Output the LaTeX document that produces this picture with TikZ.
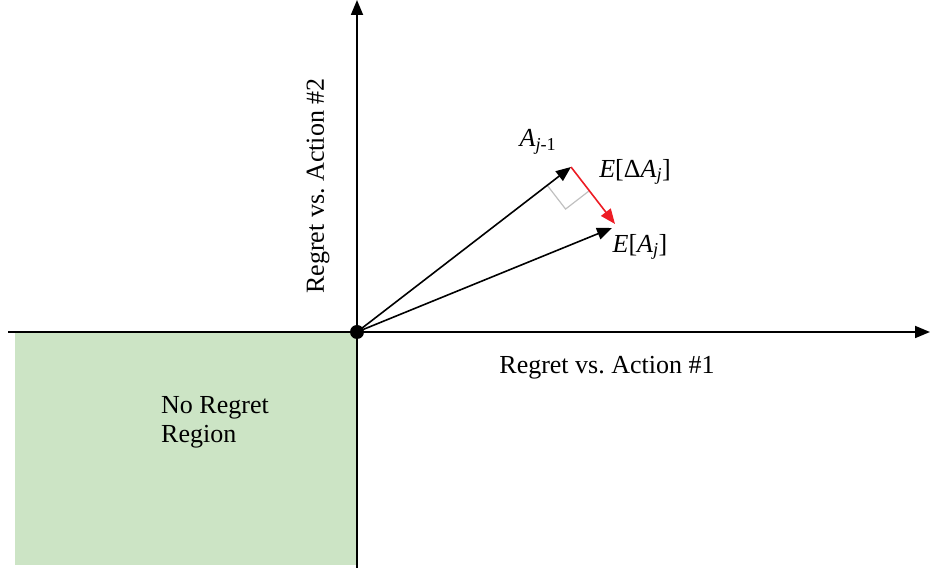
\documentclass[tikz,border=0pt]{standalone}
\usepackage{fontspec}
\setmainfont{Liberation Serif}
\usetikzlibrary{arrows.meta, positioning, calc}
\definecolor{regiongreen}{RGB}{204, 228, 197}
\definecolor{deltared}{RGB}{237, 28, 36}
\definecolor{markgray}{RGB}{192, 192, 192}
\frenchspacing

\begin{document}
\begin{tikzpicture}[x=1pt, y=1pt,
    axis/.style={line width=1.8pt, -{Triangle[length=15pt, width=12pt]}},
    vec/.style={line width=1.6pt, -{Triangle[length=15pt, width=12pt]}},
    lbl/.style={font=\fontsize{26}{29}\selectfont, inner sep=0pt}]
    \useasboundingbox (0,0) rectangle (930,573);

    % No regret region
    \fill[regiongreen] (15,8) rectangle (357,240);
    \node[lbl, align=left, anchor=west] (region) at (161,151) {No Regret\\Region};

    % Axes
    \coordinate (xstart) at (8,241);
    \coordinate (xend) at (930,241);
    \coordinate (ystart) at (357,5);
    \coordinate (yend) at (357,573);
    \draw[axis] (xstart) -- (xend);
    \draw[axis] (ystart) -- (yend);
    \node[lbl] (xlabel) at (607,205) {Regret vs. Action \#1};
    \node[lbl, rotate=90] (ylabel) at (318,387) {Regret vs. Action \#2};

    % Vectors
    \node[circle, fill, inner sep=0pt, minimum size=14pt] (o) at (357,241) {};
    \coordinate (aprev) at (571,406);
    \coordinate (anew) at (612,345);
    \coordinate (delta) at (615,349);

    % Right angle mark
    \coordinate (p1) at ($(aprev)!30pt!(o)$);
    \coordinate (p2) at ($(aprev)!30pt!(delta)$);
    \draw[markgray, line width=1.2pt] (p1) -- ($(p1)+(p2)-(aprev)$) -- (p2);

    \draw[vec] (o.center) -- (aprev);
    \draw[vec] (o.center) -- (anew);
    \draw[vec, deltared] (aprev) -- (delta);

    \node[lbl] (laprev) at (538,431) {\textit{A}\textsubscript{\textit{j}-1}};
    \node[lbl] (ldelta) at (635,401) {\textit{E}[Δ\textit{A}\textsubscript{\textit{j}}]};
    \node[lbl] (lanew) at (640,326) {\textit{E}[\textit{A}\textsubscript{\textit{j}}]};
\end{tikzpicture}
\end{document}
